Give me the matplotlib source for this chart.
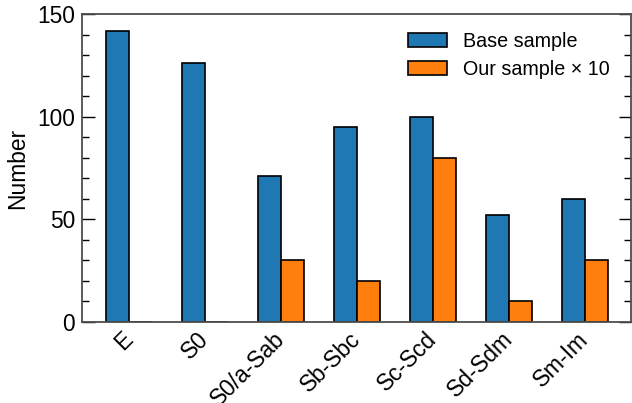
import numpy as np
import matplotlib
matplotlib.use('Agg')
import matplotlib.pyplot as plt
from matplotlib.ticker import MultipleLocator

plt.rcParams['font.family'] = ['Liberation Sans', 'DejaVu Sans']

categories = ['E', 'S0', 'S0/a-Sab', 'Sb-Sbc', 'Sc-Scd', 'Sd-Sdm', 'Sm-Im']
base_sample = [142, 126, 71, 95, 100, 52, 60]
our_sample_x10 = [0, 0, 30, 20, 80, 10, 30]

x = np.arange(len(categories))
width = 0.3

fig = plt.figure(figsize=(6.32, 4.03), dpi=100)
ax = fig.add_axes([0.13, 0.201, 0.868, 0.764])

ax.bar(x - width/2, base_sample, width, color='#1f77b4', edgecolor='black',
       linewidth=1.2, label='Base sample')
ax.bar(x + width/2, our_sample_x10, width, color='#ff7f0e', edgecolor='black',
       linewidth=1.2, label='Our sample \u00d7 10')

ax.set_xlim(-0.62, 6.6)
ax.set_ylim(0, 150)
ax.set_xticks(x)
ax.set_xticklabels(categories, rotation=45, ha='right', va='center',
                   rotation_mode='anchor', fontsize=16.4)
ax.tick_params(axis='x', length=0, pad=10)

ax.yaxis.set_major_locator(MultipleLocator(50))
ax.yaxis.set_minor_locator(MultipleLocator(10))
ax.tick_params(axis='y', which='major', direction='in', length=9, width=1,
               left=True, right=True, labelsize=16.4, pad=5)
ax.tick_params(axis='y', which='minor', direction='in', length=5, width=1,
               left=True, right=True)
ax.set_ylabel('Number', fontsize=16.4, labelpad=6)

for s in ax.spines.values():
    s.set_color('0.3')
    s.set_linewidth(1.3)

ax.legend(loc='upper right', frameon=False, fontsize=14.2,
          bbox_to_anchor=(0.994, 1.0), labelspacing=0.45)

plt.savefig('out.png', dpi=100)
